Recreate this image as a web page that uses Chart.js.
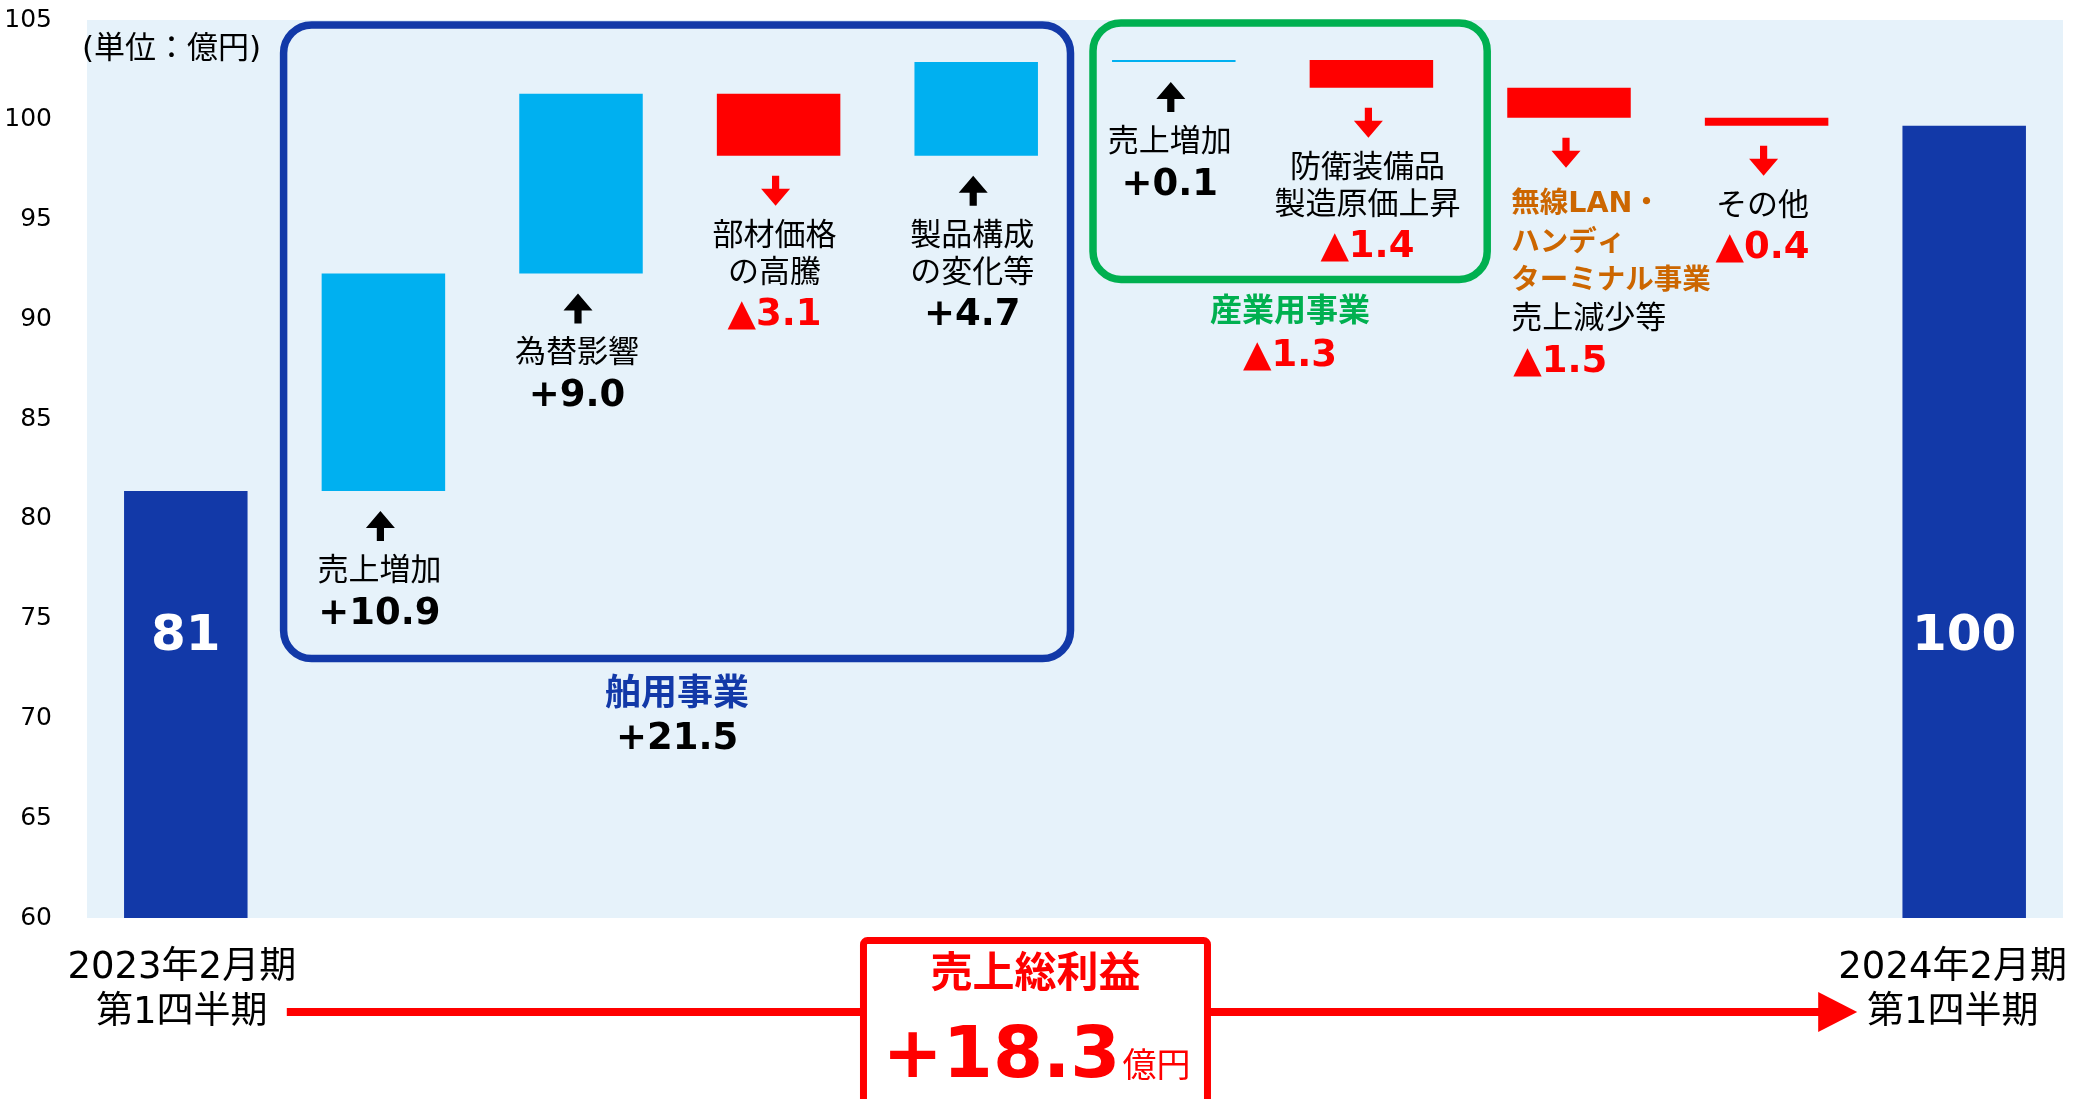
<!DOCTYPE html>
<html lang="ja">
<head>
<meta charset="utf-8">
<title>売上総利益 増減要因</title>
<script src="https://cdn.jsdelivr.net/npm/chart.js@4.4.1/dist/chart.umd.min.js"></script>
<style>
  html, body { margin: 0; padding: 0; background: #fff; }
  #wrap { width: 2073px; height: 1099px; }
</style>
</head>
<body>
<div id="wrap"><canvas id="chart" width="2073" height="1099"></canvas></div>
<script>
// --- data (億円) ---
const startLabel = ['2023年2月期', '第1四半期'];
const endLabel = ['2024年2月期', '第1四半期'];
const startValue = 81.4;
const endValue = 99.7;
const stepLabels = [
  ['売上増加'], ['為替影響'], ['部材価格', 'の高騰'], ['製品構成', 'の変化等'],
  ['売上増加'], ['防衛装備品', '製造原価上昇'], ['売上減少等'], ['その他']
];
const changeValues = [10.9, 9.0, -3.1, 4.7, 0.1, -1.4, -1.5, -0.4];
const segmentNames = [['舶用事業'], ['産業用事業'], ['無線LAN・', 'ハンディ', 'ターミナル事業']];
const segmentSteps = [[0, 3], [4, 5], [6, 6]];
const yTicks = [60, 65, 70, 75, 80, 85, 90, 95, 100, 105];
const unitLabel = '(単位：億円)';
const totalTitle = '売上総利益';
const totalUnit = '億円';

const FONT = '"DejaVu Sans", "Noto Sans CJK JP", sans-serif';
const font = (size, bold) => (bold ? 'bold ' : '') + size + 'px ' + FONT;
const fmt = v => (v >= 0 ? '+' : '▲') + Math.abs(v).toFixed(1);

const DARK = '#1239A8', CYAN = '#00B0F0', RED = '#FF0000';

// build floating bars for the waterfall
const categories = [startLabel.join(' ')].concat(stepLabels.map(l => l.join('')), [endLabel.join(' ')]);
const ranges = [[yTicks[0], startValue]];
const colors = [DARK];
let run = startValue;
changeValues.forEach(v => {
  ranges.push([run, run + v]);
  colors.push(v >= 0 ? CYAN : RED);
  run += v;
});
ranges.push([yTicks[0], endValue]);
colors.push(DARK);

function arrow(ctx, x, y0, up, color) {
  const h = 30, head = 17, hw = 14.5, sw = 3.6;
  ctx.fillStyle = color;
  ctx.beginPath();
  if (up) {
    ctx.moveTo(x, y0);
    ctx.lineTo(x + hw, y0 + head);
    ctx.lineTo(x + sw, y0 + head);
    ctx.lineTo(x + sw, y0 + h);
    ctx.lineTo(x - sw, y0 + h);
    ctx.lineTo(x - sw, y0 + head);
    ctx.lineTo(x - hw, y0 + head);
  } else {
    ctx.moveTo(x - sw, y0);
    ctx.lineTo(x + sw, y0);
    ctx.lineTo(x + sw, y0 + h - head);
    ctx.lineTo(x + hw, y0 + h - head);
    ctx.lineTo(x, y0 + h);
    ctx.lineTo(x - hw, y0 + h - head);
    ctx.lineTo(x - sw, y0 + h - head);
  }
  ctx.closePath();
  ctx.fill();
}

function roundBox(ctx, l, t, r, b, rad) {
  ctx.beginPath();
  ctx.moveTo(l + rad, t);
  ctx.lineTo(r - rad, t);
  ctx.arcTo(r, t, r, t + rad, rad);
  ctx.lineTo(r, b - rad);
  ctx.arcTo(r, b, r - rad, b, rad);
  ctx.lineTo(l + rad, b);
  ctx.arcTo(l, b, l, b - rad, rad);
  ctx.lineTo(l, t + rad);
  ctx.arcTo(l, t, l + rad, t, rad);
  ctx.closePath();
}

function text(ctx, s, x, y, f, color, align) {
  ctx.font = f;
  ctx.fillStyle = color;
  ctx.textAlign = align || 'center';
  ctx.textBaseline = 'middle';
  ctx.fillText(s, x, y);
}

const annotations = {
  id: 'annotations',
  beforeDraw(chart) {
    const { ctx, chartArea: a } = chart;
    ctx.save();
    ctx.fillStyle = '#E6F2FA';
    ctx.fillRect(a.left, a.top, a.right - a.left, a.bottom - a.top);
    ctx.restore();
  },
  afterDatasetsDraw(chart) {
    const { ctx } = chart;
    const xs = chart.scales.x, ys = chart.scales.y;
    const catW = xs.getPixelForValue(1) - xs.getPixelForValue(0);
    const edge = k => xs.getPixelForValue(k) - catW / 2;
    const bars = chart.getDatasetMeta(0).data;
    ctx.save();

    text(ctx, unitLabel, 82, 50, font(31), '#000', 'left');

    // end totals inside the dark bars
    const inY = ys.getPixelForValue(74.1);
    text(ctx, String(Math.round(startValue)), xs.getPixelForValue(0), inY, font(50, true), '#fff');
    text(ctx, String(Math.round(endValue)), xs.getPixelForValue(ranges.length - 1), inY, font(50, true), '#fff');

    // step labels under each floating bar
    changeValues.forEach((v, i) => {
      const idx = i + 1;
      const x = xs.getPixelForValue(idx);
      const bottom = ys.getPixelForValue(Math.min(ranges[idx][0], ranges[idx][1]));
      arrow(ctx, x - 3, bottom + 20, v >= 0, v >= 0 ? '#000' : RED);
      const seg = segmentSteps.findIndex(s => s[0] === i && s[1] === i);
      if (seg >= 0) {
        const left = x - bars[idx].width / 2 + 4;
        let y = bottom + 87;
        segmentNames[seg].forEach(line => {
          text(ctx, line, left, y, font(28.5, true), '#CC6600', 'left');
          y += 38.5;
        });
        stepLabels[i].forEach(line => {
          text(ctx, line, left, y, font(31), '#000', 'left');
          y += 38.5;
        });
        text(ctx, fmt(v), left + 2, y + 3.5, font(37, true), RED, 'left');
      } else {
        let y = bottom + 81;
        stepLabels[i].forEach(line => {
          text(ctx, line, x - 4, y, font(31), '#000');
          y += 37;
        });
        text(ctx, fmt(v), x - 4, y + 5, font(37, true), v >= 0 ? '#000' : RED);
      }
    });

    // segment boxes and subtotals
    const segBoxes = [
      { color: DARK, l: edge(1) - 1, r: edge(5) - 4.5, t: ys.getPixelForValue(104.75), b: ys.getPixelForValue(73), size: 36, dy: 37 },
      { color: '#00B050', l: edge(5) + 18, r: edge(7) + 17, t: ys.getPixelForValue(104.85), b: ys.getPixelForValue(92), size: 32, dy: 33 }
    ];
    segBoxes.forEach((s, k) => {
      ctx.lineWidth = 7.5;
      ctx.strokeStyle = s.color;
      roundBox(ctx, s.l, s.t, s.r, s.b, 28);
      ctx.stroke();
      const [from, to] = segmentSteps[k];
      const sum = changeValues.slice(from, to + 1).reduce((p, c) => p + c, 0);
      const cx = (s.l + s.r) / 2;
      text(ctx, segmentNames[k][0], cx, s.b + s.dy, font(s.size, true), s.color);
      text(ctx, fmt(sum), cx, s.b + s.dy + 44, font(37, true), sum >= 0 ? '#000' : RED);
    });

    // period labels under the axis
    const cw = chart.width;
    [[startLabel, 0], [endLabel, ranges.length - 1]].forEach(([lines, idx]) => {
      ctx.font = font(37);
      const w = Math.max(...lines.map(l => ctx.measureText(l).width));
      const x = Math.min(xs.getPixelForValue(idx) - 4, cw - 6 - w / 2);
      text(ctx, lines[0], x, 968, font(37), '#000');
      text(ctx, lines[1], x, 1013, font(37), '#000');
    });

    // red arrow between the two periods
    const lineY = 1012;
    const x0 = xs.getPixelForValue(0) + 101;
    const tip = xs.getPixelForValue(ranges.length - 1) - 107;
    ctx.strokeStyle = RED;
    ctx.lineWidth = 8;
    ctx.beginPath();
    ctx.moveTo(x0, lineY);
    ctx.lineTo(tip - 36, lineY);
    ctx.stroke();
    ctx.fillStyle = RED;
    ctx.beginPath();
    ctx.moveTo(tip - 39, lineY - 20);
    ctx.lineTo(tip, lineY);
    ctx.lineTo(tip - 39, lineY + 20);
    ctx.closePath();
    ctx.fill();

    // total change box
    const bx = xs.getPixelForValue(4.3);
    const bl = bx - 172, br = bx + 172, bt = 940.5;
    ctx.fillStyle = '#fff';
    ctx.fillRect(bl, bt, br - bl, 200);
    ctx.lineWidth = 7;
    ctx.strokeStyle = RED;
    roundBox(ctx, bl, bt, br, 1110, 4);
    ctx.stroke();
    text(ctx, totalTitle, bx, 976, font(42, true), RED);
    const total = fmt(endValue - startValue);
    ctx.font = font(72, true);
    const w1 = ctx.measureText(total).width;
    ctx.font = font(34);
    const w2 = ctx.measureText(totalUnit).width;
    const sx = bx - (w1 + w2) / 2;
    ctx.fillStyle = RED;
    ctx.textBaseline = 'alphabetic';
    ctx.textAlign = 'left';
    ctx.font = font(72, true);
    ctx.fillText(total, sx, 1077);
    ctx.font = font(34);
    ctx.fillText(totalUnit, sx + w1 + 2, 1077);

    ctx.restore();
  }
};

new Chart(document.getElementById('chart').getContext('2d'), {
  type: 'bar',
  data: {
    labels: categories,
    datasets: [{
      data: ranges,
      backgroundColor: colors,
      borderWidth: 0,
      barPercentage: 0.625,
      categoryPercentage: 1
    }]
  },
  options: {
    responsive: false,
    animation: false,
    layout: { padding: { top: 20, bottom: 181, left: 0, right: 10 } },
    plugins: { legend: { display: false }, tooltip: { enabled: false } },
    scales: {
      x: { display: false },
      y: {
        min: yTicks[0],
        max: yTicks[yTicks.length - 1],
        afterBuildTicks: s => { s.ticks = yTicks.map(v => ({ value: v })); },
        afterFit: s => { s.width = 87; s.paddingTop = 0; s.paddingBottom = 0; },
        grid: { display: false },
        border: { display: false },
        ticks: { padding: 27, color: '#000', font: { family: FONT, size: 25 } }
      }
    }
  },
  plugins: [annotations]
});
</script>
</body>
</html>
